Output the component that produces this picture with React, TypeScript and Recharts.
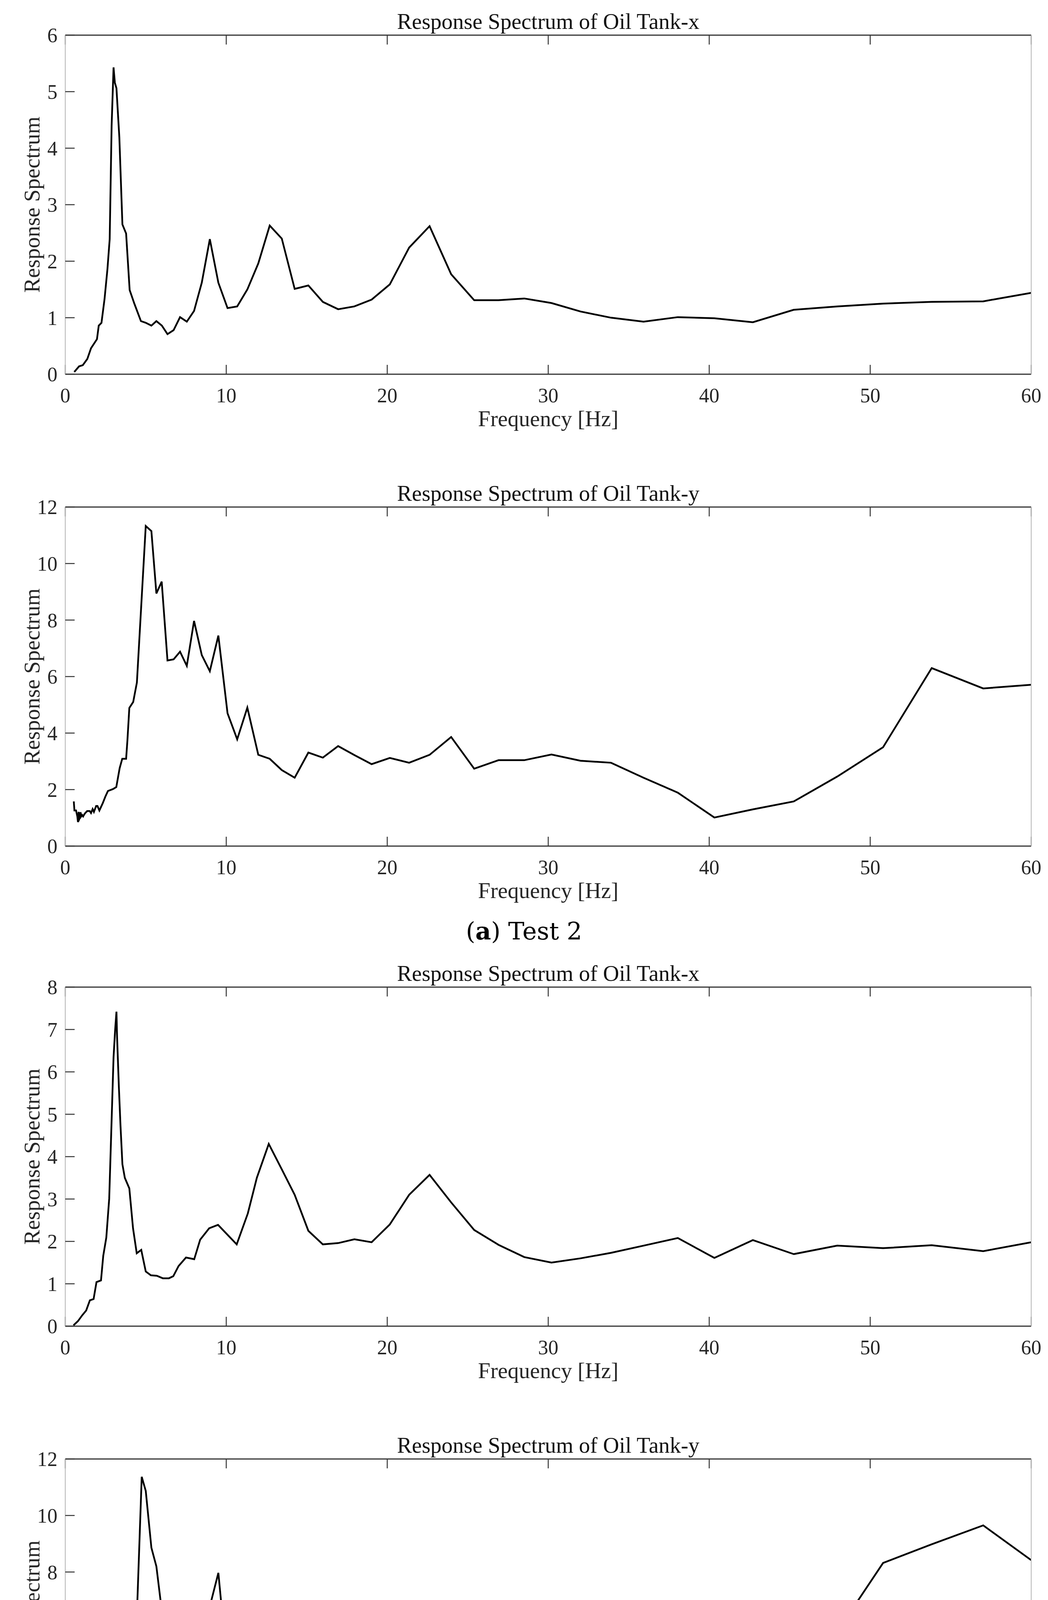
import React from "react";
import { LineChart, Line, XAxis, YAxis, Label } from "recharts";

// frequency ticks shared by all four panels
const freqTicks = [0, 10, 20, 30, 40, 50, 60];

// (a) Test 2 — Oil Tank-x
const test2XFreq = [0.56, 0.86, 1.09, 1.37, 1.6, 1.97, 2.08, 2.25, 2.44, 2.62, 2.76, 2.88, 3.0, 3.08, 3.18, 3.36, 3.55, 3.78, 4.0, 4.29, 4.7, 5.0, 5.35, 5.66, 6.0, 6.35, 6.73, 7.13, 7.55, 8.0, 8.48, 8.98, 9.51, 10.08, 10.68, 11.31, 11.99, 12.7, 13.45, 14.25, 15.1, 16.0, 16.95, 17.96, 19.03, 20.16, 21.36, 22.63, 23.97, 25.4, 26.91, 28.51, 30.2, 32.0, 33.9, 35.92, 38.05, 40.32, 42.71, 45.25, 47.95, 50.8, 53.82, 57.02, 60];
const test2XResp = [0.04, 0.14, 0.16, 0.27, 0.46, 0.62, 0.86, 0.91, 1.33, 1.86, 2.39, 4.4, 5.43, 5.16, 5.06, 4.19, 2.65, 2.49, 1.49, 1.25, 0.94, 0.91, 0.86, 0.94, 0.86, 0.71, 0.78, 1.01, 0.93, 1.12, 1.62, 2.39, 1.62, 1.17, 1.2, 1.5, 1.96, 2.63, 2.4, 1.51, 1.57, 1.28, 1.15, 1.2, 1.32, 1.59, 2.24, 2.62, 1.77, 1.31, 1.31, 1.34, 1.26, 1.11, 1.0, 0.93, 1.01, 0.99, 0.92, 1.14, 1.2, 1.25, 1.28, 1.29, 1.44];

// (a) Test 2 — Oil Tank-y
const test2YFreq = [0.53, 0.57, 0.67, 0.75, 0.79, 0.83, 0.87, 0.91, 0.95, 0.99, 1.05, 1.11, 1.18, 1.24, 1.36, 1.52, 1.6, 1.7, 1.78, 1.92, 2.0, 2.12, 2.33, 2.49, 2.65, 2.97, 3.17, 3.38, 3.54, 3.78, 3.86, 3.98, 4.22, 4.45, 5.0, 5.35, 5.66, 5.99, 6.35, 6.73, 7.13, 7.55, 8.0, 8.48, 8.98, 9.51, 10.08, 10.68, 11.31, 11.99, 12.7, 13.45, 14.25, 15.1, 16.0, 16.95, 17.96, 19.03, 20.16, 21.36, 22.63, 23.97, 25.4, 26.91, 28.51, 30.2, 32.0, 33.9, 35.92, 38.05, 40.32, 42.71, 45.25, 47.95, 50.8, 53.82, 57.02, 60];
const test2YResp = [1.58, 1.26, 1.26, 1.05, 0.85, 1.21, 0.95, 1.0, 1.2, 1.05, 1.1, 1.05, 1.12, 1.17, 1.24, 1.24, 1.17, 1.31, 1.21, 1.42, 1.42, 1.26, 1.52, 1.75, 1.95, 2.02, 2.09, 2.76, 3.09, 3.09, 3.73, 4.89, 5.1, 5.79, 11.33, 11.15, 8.94, 9.36, 6.57, 6.61, 6.88, 6.38, 7.97, 6.76, 6.19, 7.45, 4.7, 3.78, 4.9, 3.23, 3.09, 2.69, 2.42, 3.31, 3.13, 3.54, 3.22, 2.9, 3.12, 2.95, 3.23, 3.86, 2.74, 3.04, 3.04, 3.24, 3.02, 2.95, 2.42, 1.89, 1.01, 1.3, 1.58, 2.46, 3.5, 6.3, 5.58, 5.71];

// (b) Test 7 — Oil Tank-x
const test7XFreq = [0.51, 0.79, 1.06, 1.3, 1.53, 1.76, 1.94, 2.22, 2.36, 2.55, 2.73, 2.87, 3.0, 3.1, 3.18, 3.22, 3.33, 3.43, 3.55, 3.7, 3.98, 4.21, 4.44, 4.72, 5.0, 5.32, 5.69, 6.06, 6.44, 6.71, 7.04, 7.5, 8.01, 8.38, 8.94, 9.49, 10.65, 11.34, 11.9, 12.64, 13.45, 14.25, 15.1, 16.0, 16.95, 17.96, 19.03, 20.16, 21.36, 22.63, 23.97, 25.4, 26.91, 28.51, 30.2, 32.0, 33.9, 35.92, 38.05, 40.32, 42.71, 45.25, 47.95, 50.8, 53.82, 57.02, 60];
const test7XResp = [0.02, 0.12, 0.26, 0.37, 0.61, 0.64, 1.04, 1.08, 1.66, 2.09, 3.01, 4.74, 6.35, 7.0, 7.42, 6.81, 5.65, 4.74, 3.82, 3.5, 3.25, 2.31, 1.72, 1.8, 1.29, 1.2, 1.19, 1.13, 1.13, 1.18, 1.42, 1.62, 1.58, 2.04, 2.31, 2.39, 1.93, 2.66, 3.5, 4.3, 3.7, 3.1, 2.25, 1.93, 1.96, 2.05, 1.98, 2.4, 3.1, 3.57, 2.92, 2.27, 1.92, 1.63, 1.5, 1.6, 1.73, 1.9, 2.08, 1.61, 2.03, 1.7, 1.9, 1.84, 1.91, 1.77, 1.98];

// (b) Test 7 — Oil Tank-y
const test7YFreq = [0.48, 0.53, 0.59, 0.67, 0.75, 0.83, 0.91, 0.99, 1.05, 1.11, 1.2, 1.32, 1.48, 1.6, 1.76, 1.96, 2.08, 2.25, 2.41, 2.53, 2.65, 2.81, 2.97, 3.13, 3.34, 3.54, 3.74, 3.82, 3.98, 4.22, 4.35, 4.45, 4.75, 5.0, 5.35, 5.66, 5.99, 6.35, 6.7, 7.09, 7.55, 8.0, 8.48, 8.98, 9.51, 10.08, 10.68, 11.31, 11.99, 12.7, 13.45, 14.25, 15.1, 16.0, 16.95, 17.96, 19.03, 20.16, 21.36, 22.63, 23.97, 25.4, 26.91, 28.51, 30.2, 32.0, 33.9, 35.92, 38.05, 40.32, 42.71, 45.25, 47.95, 50.8, 53.82, 57.02, 60];
const test7YResp = [1.51, 1.08, 1.49, 1.08, 0.91, 1.17, 1.38, 1.21, 0.89, 0.91, 1.33, 1.21, 1.19, 1.4, 1.49, 1.51, 1.38, 1.28, 1.77, 1.79, 1.7, 2.09, 2.32, 2.62, 3.01, 3.2, 3.59, 3.94, 4.72, 5.0, 5.74, 6.49, 11.37, 10.87, 8.86, 8.2, 6.66, 6.43, 5.2, 5.85, 6.13, 6.66, 6.43, 6.78, 7.97, 4.55, 4.55, 4.03, 3.49, 3.55, 3.58, 4.06, 3.14, 3.11, 3.66, 3.26, 3.5, 2.95, 3.05, 2.9, 3.1, 3.15, 3.15, 3.28, 4.2, 3.76, 3.94, 3.72, 5.06, 1.74, 2.81, 3.7, 5.89, 8.32, 8.98, 9.65, 8.42];

const ticks6 = [0, 1, 2, 3, 4, 5, 6];
const ticks8 = [0, 1, 2, 3, 4, 5, 6, 7, 8];
const ticks12 = [0, 2, 4, 6, 8, 10, 12];

const SERIF = "'Liberation Serif', 'Times New Roman', serif";
const AXIS_DARK = { stroke: "#333", strokeWidth: 3 };
const AXIS_LIGHT = { stroke: "#b5b5b5", strokeWidth: 2 };
const TICK_LINE = { stroke: "#333", strokeWidth: 2.5 };
const TICK_TEXT = { fontFamily: SERIF, fontSize: 52, fill: "#262626" };
const LABEL_STYLE = { fontFamily: SERIF, fontSize: 57, fill: "#262626" };

// chart box around each plot area (plot area is 2472 x 868, left edge at 167)
const PAD_TOP = 120;
const PLOT_H = 868;
const X_AXIS_H = 150;
const PAD_BOTTOM = 30;

const toRows = (freq: number[], resp: number[]) => freq.map((f, i) => ({ f, v: resp[i] }));
const noTick = () => <g />;

type PanelProps = {
  title: string;
  freq: number[];
  resp: number[];
  yMax: number;
  yTicks: number[];
  plotTop: number;
};

function SpectrumPanel({ title, freq, resp, yMax, yTicks, plotTop }: PanelProps) {
  return (
    <div style={{ position: "absolute", left: 0, top: plotTop - PAD_TOP }}>
      <LineChart
        width={2682}
        height={PAD_TOP + PLOT_H + X_AXIS_H + PAD_BOTTOM}
        data={toRows(freq, resp)}
        margin={{ top: PAD_TOP - 1, right: 42, bottom: PAD_BOTTOM, left: 67 }}
      >
        <XAxis
          dataKey="f"
          type="number"
          domain={[0, 60]}
          ticks={freqTicks}
          interval={0}
          allowDataOverflow
          height={X_AXIS_H}
          tickSize={-24}
          tickMargin={59}
          axisLine={AXIS_DARK}
          tickLine={TICK_LINE}
          tick={TICK_TEXT}
        >
          <Label value="Frequency [Hz]" position="insideBottom" offset={17} style={LABEL_STYLE} />
        </XAxis>
        <XAxis
          xAxisId="top"
          orientation="top"
          dataKey="f"
          type="number"
          domain={[0, 60]}
          ticks={freqTicks}
          interval={0}
          height={1}
          tickSize={-24}
          axisLine={AXIS_DARK}
          tickLine={TICK_LINE}
          tick={noTick}
        >
          <Label value={title} position="top" offset={15} style={{ ...LABEL_STYLE, fill: "#111" }} />
        </XAxis>
        <YAxis
          type="number"
          domain={[0, yMax]}
          ticks={yTicks}
          interval={0}
          width={100}
          tickSize={-24}
          tickMargin={44}
          axisLine={AXIS_LIGHT}
          tickLine={TICK_LINE}
          tick={TICK_TEXT}
        >
          <Label
            value="Response Spectrum"
            angle={-90}
            position="insideLeft"
            offset={14}
            style={{ ...LABEL_STYLE, textAnchor: "middle" }}
          />
        </YAxis>
        <YAxis
          yAxisId="right"
          orientation="right"
          type="number"
          domain={[0, yMax]}
          ticks={yTicks}
          interval={0}
          width={1}
          tickSize={-24}
          axisLine={AXIS_LIGHT}
          tickLine={TICK_LINE}
          tick={noTick}
        />
        <Line
          dataKey="v"
          type="linear"
          stroke="#000"
          strokeWidth={4.5}
          dot={false}
          activeDot={false}
          isAnimationActive={false}
        />
      </LineChart>
    </div>
  );
}

function Caption({ letter, text, centerY }: { letter: string; text: string; centerY: number }) {
  return (
    <div
      style={{
        position: "absolute",
        left: 0,
        width: 2682,
        top: centerY - 36,
        textAlign: "center",
        fontFamily: "'DejaVu Serif', serif",
        fontSize: 62,
        lineHeight: "72px",
        color: "#000",
      }}
    >
      (<b>{letter}</b>) {text}
    </div>
  );
}

export default function App() {
  return (
    <div style={{ position: "relative", width: 2682, height: 4898, background: "#fff", overflow: "hidden" }}>
      <style>{"body{margin:0}"}</style>
      <SpectrumPanel title="Response Spectrum of Oil Tank-x" freq={test2XFreq} resp={test2XResp} yMax={6} yTicks={ticks6} plotTop={90} />
      <SpectrumPanel title="Response Spectrum of Oil Tank-y" freq={test2YFreq} resp={test2YResp} yMax={12} yTicks={ticks12} plotTop={1298} />
      <Caption letter="a" text="Test 2" centerY={2384} />
      <SpectrumPanel title="Response Spectrum of Oil Tank-x" freq={test7XFreq} resp={test7XResp} yMax={8} yTicks={ticks8} plotTop={2527} />
      <SpectrumPanel title="Response Spectrum of Oil Tank-y" freq={test7YFreq} resp={test7YResp} yMax={12} yTicks={ticks12} plotTop={3735} />
      <Caption letter="b" text="Test 7" centerY={4831} />
    </div>
  );
}
